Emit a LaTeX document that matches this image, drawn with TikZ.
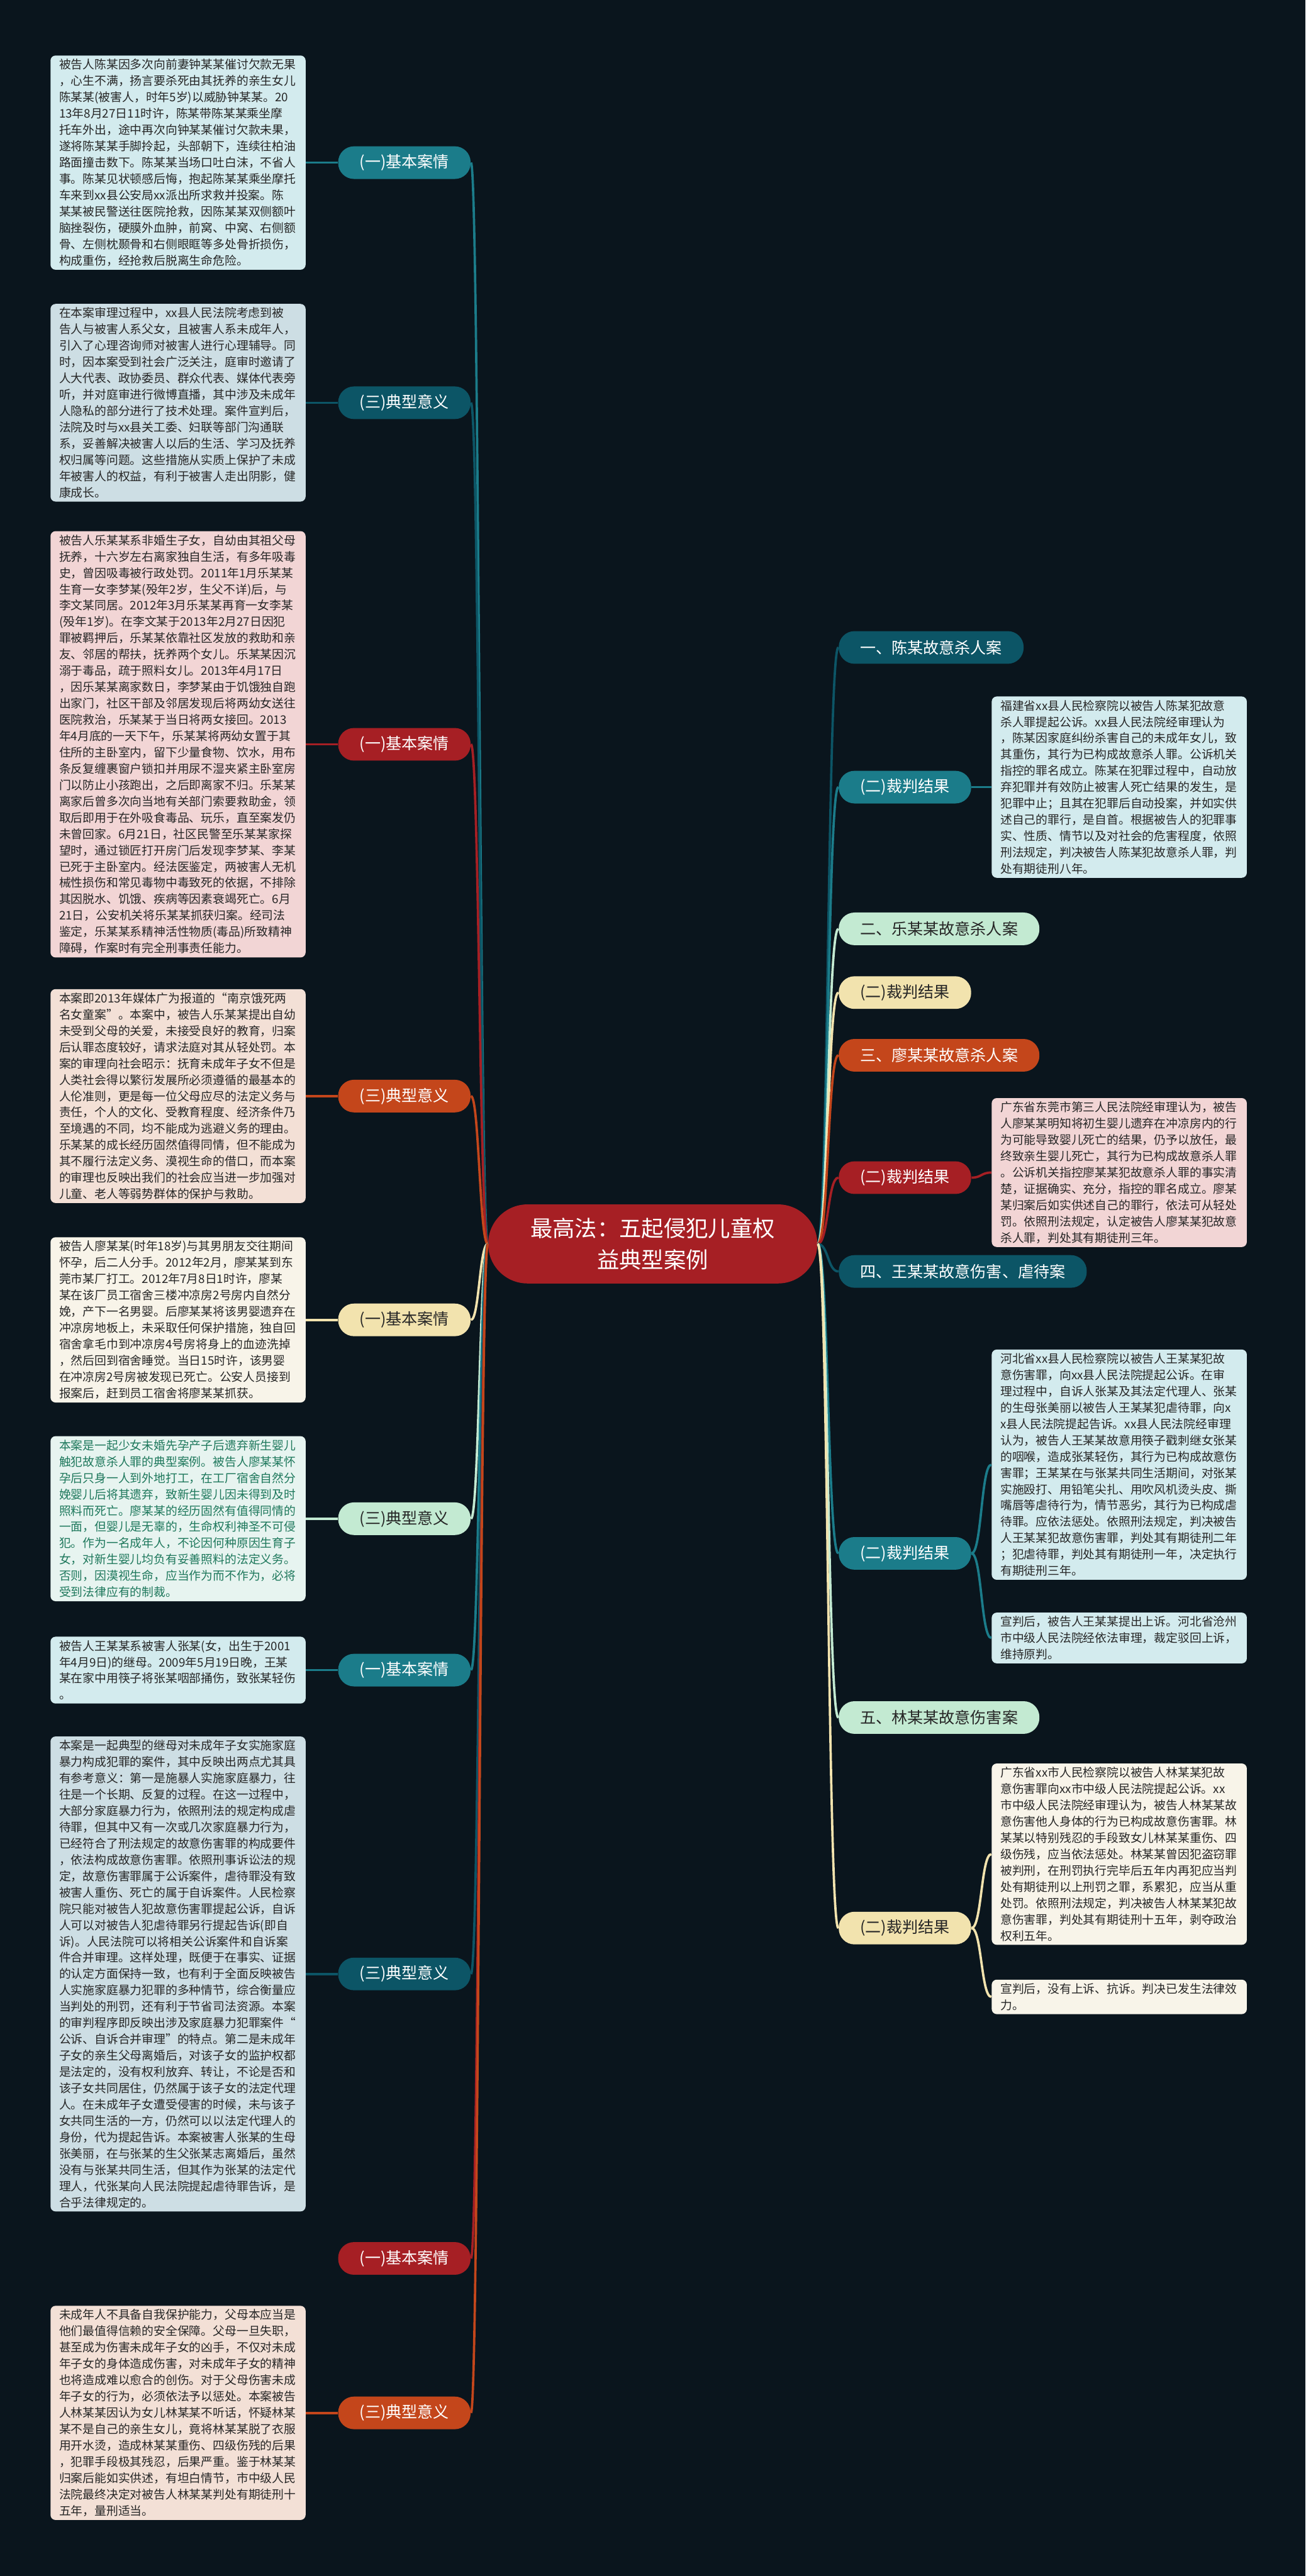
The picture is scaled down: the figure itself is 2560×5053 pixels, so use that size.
\documentclass[tikz,border=0pt]{standalone}
\usepackage{fontspec}
\setmainfont{Noto Sans CJK SC}
\definecolor{bg}{HTML}{0A151D}
\definecolor{cTeal}{HTML}{1B7C8A}
\definecolor{cDark}{HTML}{0C5566}
\definecolor{cRed}{HTML}{A61F24}
\definecolor{cOrange}{HTML}{C4461B}
\definecolor{cYellow}{HTML}{F2E3AE}
\definecolor{cGreen}{HTML}{C3EAD2}
\definecolor{fTeal}{HTML}{D3EBEE}
\definecolor{fDark}{HTML}{CDDEE4}
\definecolor{fRed}{HTML}{F2D5D5}
\definecolor{fOrange}{HTML}{F3E0D6}
\definecolor{fYellow}{HTML}{F8F4E9}
\definecolor{fGreen}{HTML}{E7F4F0}
\definecolor{txt}{HTML}{262626}
\definecolor{gtxt}{HTML}{1E785C}
\tikzset{
  centre/.style={fill=cRed,text=white,rounded corners=7.7mm,minimum width=6.45cm,minimum height=1.55cm,
    align=center,font=\fontsize{12.4}{17.4}\selectfont},
  topic/.style={rounded corners=3.1mm,minimum height=6.4mm,inner xsep=4.2mm,inner ysep=0pt,
    font=\fontsize{8.8}{10}\selectfont},
  leaf/.style={rounded corners=1mm,align=left,text width=4.66cm,inner xsep=1.7mm,inner ysep=0.7mm,
    text=txt,font=\fontsize{6.6}{9.1}\selectfont},
  link/.style={line width=1.3pt},
}
\begin{document}
\begin{tikzpicture}[x=0.01cm,y=-0.01cm]
\fill[bg] (0,0) rectangle (2560,5053);
\useasboundingbox (0,0) rectangle (2560,5053);

% centre
\node[centre] (ctr) at (1280,2440) {最高法：五起侵犯儿童权\\益典型案例};

% left topics
\node[topic,fill=cTeal,text=white] (l1) at (793,319) {(一)基本案情};
\node[topic,fill=cDark,text=white] (l2) at (793,790) {(三)典型意义};
\node[topic,fill=cRed,text=white] (l3) at (793,1460) {(一)基本案情};
\node[topic,fill=cOrange,text=white] (l4) at (793,2150) {(三)典型意义};
\node[topic,fill=cYellow,text=txt] (l5) at (793,2589) {(一)基本案情};
\node[topic,fill=cGreen,text=txt] (l6) at (793,2979) {(三)典型意义};
\node[topic,fill=cTeal,text=white] (l7) at (793,3276) {(一)基本案情};
\node[topic,fill=cDark,text=white] (l8) at (793,3872) {(三)典型意义};
\node[topic,fill=cRed,text=white] (l9) at (793,4430) {(一)基本案情};
\node[topic,fill=cOrange,text=white] (l10) at (793,4733) {(三)典型意义};

% right topics
\node[topic,fill=cDark,text=white,anchor=west] (r1) at (1644,1270) {一、陈某故意杀人案};
\node[topic,fill=cTeal,text=white,anchor=west] (r2) at (1644,1544) {(二)裁判结果};
\node[topic,fill=cGreen,text=txt,anchor=west] (r3) at (1644,1822) {二、乐某某故意杀人案};
\node[topic,fill=cYellow,text=txt,anchor=west] (r4) at (1644,1947) {(二)裁判结果};
\node[topic,fill=cOrange,text=white,anchor=west] (r5) at (1644,2070) {三、廖某某故意杀人案};
\node[topic,fill=cRed,text=white,anchor=west] (r6) at (1644,2310) {(二)裁判结果};
\node[topic,fill=cDark,text=white,anchor=west] (r7) at (1644,2494) {四、王某某故意伤害、虐待案};
\node[topic,fill=cTeal,text=white,anchor=west] (r8) at (1644,3047) {(二)裁判结果};
\node[topic,fill=cGreen,text=txt,anchor=west] (r9) at (1644,3369) {五、林某某故意伤害案};
\node[topic,fill=cYellow,text=txt,anchor=west] (r10) at (1644,3782) {(二)裁判结果};

% left leaves
\node[leaf,fill=fTeal,anchor=east] (b1) at (600,319) {被告人陈某因多次向前妻钟某某催讨欠款无果\\，心生不满，扬言要杀死由其抚养的亲生女儿\\陈某某(被害人，时年5岁)以威胁钟某某。20\\13年8月27日11时许，陈某带陈某某乘坐摩\\托车外出，途中再次向钟某某催讨欠款未果，\\遂将陈某某手脚拎起，头部朝下，连续往柏油\\路面撞击数下。陈某某当场口吐白沫，不省人\\事。陈某见状顿感后悔，抱起陈某某乘坐摩托\\车来到xx县公安局xx派出所求救并投案。陈\\某某被民警送往医院抢救，因陈某某双侧额叶\\脑挫裂伤，硬膜外血肿，前窝、中窝、右侧额\\骨、左侧枕颞骨和右侧眼眶等多处骨折损伤，\\构成重伤，经抢救后脱离生命危险。};
\node[leaf,fill=fDark,anchor=east] (b2) at (600,790) {在本案审理过程中，xx县人民法院考虑到被\\告人与被害人系父女，且被害人系未成年人，\\引入了心理咨询师对被害人进行心理辅导。同\\时，因本案受到社会广泛关注，庭审时邀请了\\人大代表、政协委员、群众代表、媒体代表旁\\听，并对庭审进行微博直播，其中涉及未成年\\人隐私的部分进行了技术处理。案件宣判后，\\法院及时与xx县关工委、妇联等部门沟通联\\系，妥善解决被害人以后的生活、学习及抚养\\权归属等问题。这些措施从实质上保护了未成\\年被害人的权益，有利于被害人走出阴影，健\\康成长。};
\node[leaf,fill=fRed,anchor=east] (b3) at (600,1460) {被告人乐某某系非婚生子女，自幼由其祖父母\\抚养，十六岁左右离家独自生活，有多年吸毒\\史，曾因吸毒被行政处罚。2011年1月乐某某\\生育一女李梦某(殁年2岁，生父不详)后，与\\李文某同居。2012年3月乐某某再育一女李某\\(殁年1岁)。在李文某于2013年2月27日因犯\\罪被羁押后，乐某某依靠社区发放的救助和亲\\友、邻居的帮扶，抚养两个女儿。乐某某因沉\\溺于毒品，疏于照料女儿。2013年4月17日\\，因乐某某离家数日，李梦某由于饥饿独自跑\\出家门，社区干部及邻居发现后将两幼女送往\\医院救治，乐某某于当日将两女接回。2013\\年4月底的一天下午，乐某某将两幼女置于其\\住所的主卧室内，留下少量食物、饮水，用布\\条反复缠裹窗户锁扣并用尿不湿夹紧主卧室房\\门以防止小孩跑出，之后即离家不归。乐某某\\离家后曾多次向当地有关部门索要救助金，领\\取后即用于在外吸食毒品、玩乐，直至案发仍\\未曾回家。6月21日，社区民警至乐某某家探\\望时，通过锁匠打开房门后发现李梦某、李某\\已死于主卧室内。经法医鉴定，两被害人无机\\械性损伤和常见毒物中毒致死的依据，不排除\\其因脱水、饥饿、疾病等因素衰竭死亡。6月\\21日，公安机关将乐某某抓获归案。经司法\\鉴定，乐某某系精神活性物质(毒品)所致精神\\障碍，作案时有完全刑事责任能力。};
\node[leaf,fill=fOrange,anchor=east] (b4) at (600,2150) {本案即2013年媒体广为报道的“南京饿死两\\名女童案”。本案中，被告人乐某某提出自幼\\未受到父母的关爱，未接受良好的教育，归案\\后认罪态度较好，请求法庭对其从轻处罚。本\\案的审理向社会昭示：抚育未成年子女不但是\\人类社会得以繁衍发展所必须遵循的最基本的\\人伦准则，更是每一位父母应尽的法定义务与\\责任，个人的文化、受教育程度、经济条件乃\\至境遇的不同，均不能成为逃避义务的理由。\\乐某某的成长经历固然值得同情，但不能成为\\其不履行法定义务、漠视生命的借口，而本案\\的审理也反映出我们的社会应当进一步加强对\\儿童、老人等弱势群体的保护与救助。};
\node[leaf,fill=fYellow,anchor=east] (b5) at (600,2589) {被告人廖某某(时年18岁)与其男朋友交往期间\\怀孕，后二人分手。2012年2月，廖某某到东\\莞市某厂打工。2012年7月8日1时许，廖某\\某在该厂员工宿舍三楼冲凉房2号房内自然分\\娩，产下一名男婴。后廖某某将该男婴遗弃在\\冲凉房地板上，未采取任何保护措施，独自回\\宿舍拿毛巾到冲凉房4号房将身上的血迹洗掉\\，然后回到宿舍睡觉。当日15时许，该男婴\\在冲凉房2号房被发现已死亡。公安人员接到\\报案后，赶到员工宿舍将廖某某抓获。};
\node[leaf,fill=fGreen,text=gtxt,anchor=east] (b6) at (600,2979) {本案是一起少女未婚先孕产子后遗弃新生婴儿\\触犯故意杀人罪的典型案例。被告人廖某某怀\\孕后只身一人到外地打工，在工厂宿舍自然分\\娩婴儿后将其遗弃，致新生婴儿因未得到及时\\照料而死亡。廖某某的经历固然有值得同情的\\一面，但婴儿是无辜的，生命权利神圣不可侵\\犯。作为一名成年人，不论因何种原因生育子\\女，对新生婴儿均负有妥善照料的法定义务。\\否则，因漠视生命，应当作为而不作为，必将\\受到法律应有的制裁。};
\node[leaf,fill=fTeal,anchor=east] (b7) at (600,3276) {被告人王某某系被害人张某(女，出生于2001\\年4月9日)的继母。2009年5月19日晚，王某\\某在家中用筷子将张某咽部捅伤，致张某轻伤\\。};
\node[leaf,fill=fDark,anchor=east] (b8) at (600,3872) {本案是一起典型的继母对未成年子女实施家庭\\暴力构成犯罪的案件，其中反映出两点尤其具\\有参考意义：第一是施暴人实施家庭暴力，往\\往是一个长期、反复的过程。在这一过程中，\\大部分家庭暴力行为，依照刑法的规定构成虐\\待罪，但其中又有一次或几次家庭暴力行为，\\已经符合了刑法规定的故意伤害罪的构成要件\\，依法构成故意伤害罪。依照刑事诉讼法的规\\定，故意伤害罪属于公诉案件，虐待罪没有致\\被害人重伤、死亡的属于自诉案件。人民检察\\院只能对被告人犯故意伤害罪提起公诉，自诉\\人可以对被告人犯虐待罪另行提起告诉(即自\\诉)。人民法院可以将相关公诉案件和自诉案\\件合并审理。这样处理，既便于在事实、证据\\的认定方面保持一致，也有利于全面反映被告\\人实施家庭暴力犯罪的多种情节，综合衡量应\\当判处的刑罚，还有利于节省司法资源。本案\\的审判程序即反映出涉及家庭暴力犯罪案件“\\公诉、自诉合并审理”的特点。第二是未成年\\子女的亲生父母离婚后，对该子女的监护权都\\是法定的，没有权利放弃、转让，不论是否和\\该子女共同居住，仍然属于该子女的法定代理\\人。在未成年子女遭受侵害的时候，未与该子\\女共同生活的一方，仍然可以以法定代理人的\\身份，代为提起告诉。本案被害人张某的生母\\张美丽，在与张某的生父张某志离婚后，虽然\\没有与张某共同生活，但其作为张某的法定代\\理人，代张某向人民法院提起虐待罪告诉，是\\合乎法律规定的。};
\node[leaf,fill=fOrange,anchor=east] (b9) at (600,4733) {未成年人不具备自我保护能力，父母本应当是\\他们最值得信赖的安全保障。父母一旦失职，\\甚至成为伤害未成年子女的凶手，不仅对未成\\年子女的身体造成伤害，对未成年子女的精神\\也将造成难以愈合的创伤。对于父母伤害未成\\年子女的行为，必须依法予以惩处。本案被告\\人林某某因认为女儿林某某不听话，怀疑林某\\某不是自己的亲生女儿，竟将林某某脱了衣服\\用开水烫，造成林某某重伤、四级伤残的后果\\，犯罪手段极其残忍，后果严重。鉴于林某某\\归案后能如实供述，有坦白情节，市中级人民\\法院最终决定对被告人林某某判处有期徒刑十\\五年，量刑适当。};

% right leaves
\node[leaf,fill=fTeal,anchor=west] (rb1) at (1944,1544) {福建省xx县人民检察院以被告人陈某犯故意\\杀人罪提起公诉。xx县人民法院经审理认为\\，陈某因家庭纠纷杀害自己的未成年女儿，致\\其重伤，其行为已构成故意杀人罪。公诉机关\\指控的罪名成立。陈某在犯罪过程中，自动放\\弃犯罪并有效防止被害人死亡结果的发生，是\\犯罪中止；且其在犯罪后自动投案，并如实供\\述自己的罪行，是自首。根据被告人的犯罪事\\实、性质、情节以及对社会的危害程度，依照\\刑法规定，判决被告人陈某犯故意杀人罪，判\\处有期徒刑八年。};
\node[leaf,fill=fRed,anchor=west] (rb2) at (1944,2300) {广东省东莞市第三人民法院经审理认为，被告\\人廖某某明知将初生婴儿遗弃在冲凉房内的行\\为可能导致婴儿死亡的结果，仍予以放任，最\\终致亲生婴儿死亡，其行为已构成故意杀人罪\\。公诉机关指控廖某某犯故意杀人罪的事实清\\楚，证据确实、充分，指控的罪名成立。廖某\\某归案后如实供述自己的罪行，依法可从轻处\\罚。依照刑法规定，认定被告人廖某某犯故意\\杀人罪，判处其有期徒刑三年。};
\node[leaf,fill=fTeal,anchor=west] (rb3) at (1944,2873) {河北省xx县人民检察院以被告人王某某犯故\\意伤害罪，向xx县人民法院提起公诉。在审\\理过程中，自诉人张某及其法定代理人、张某\\的生母张美丽以被告人王某某犯虐待罪，向x\\x县人民法院提起告诉。xx县人民法院经审理\\认为，被告人王某某故意用筷子戳刺继女张某\\的咽喉，造成张某轻伤，其行为已构成故意伤\\害罪；王某某在与张某共同生活期间，对张某\\实施殴打、用铅笔尖扎、用吹风机烫头皮、撕\\嘴唇等虐待行为，情节恶劣，其行为已构成虐\\待罪。应依法惩处。依照刑法规定，判决被告\\人王某某犯故意伤害罪，判处其有期徒刑二年\\；犯虐待罪，判处其有期徒刑一年，决定执行\\有期徒刑三年。};
\node[leaf,fill=fTeal,anchor=west] (rb4) at (1944,3213) {宣判后，被告人王某某提出上诉。河北省沧州\\市中级人民法院经依法审理，裁定驳回上诉，\\维持原判。};
\node[leaf,fill=fYellow,anchor=west] (rb5) at (1944,3637) {广东省xx市人民检察院以被告人林某某犯故\\意伤害罪向xx市中级人民法院提起公诉。xx\\市中级人民法院经审理认为，被告人林某某故\\意伤害他人身体的行为已构成故意伤害罪。林\\某某以特别残忍的手段致女儿林某某重伤、四\\级伤残，应当依法惩处。林某某曾因犯盗窃罪\\被判刑，在刑罚执行完毕后五年内再犯应当判\\处有期徒刑以上刑罚之罪，系累犯，应当从重\\处罚。依照刑法规定，判决被告人林某某犯故\\意伤害罪，判处其有期徒刑十五年，剥夺政治\\权利五年。};
\node[leaf,fill=fYellow,anchor=west] (rb6) at (1944,3917) {宣判后，没有上诉、抗诉。判决已发生法律效\\力。};

% centre to topics
\foreach \n/\c in {l1/cTeal,l2/cDark,l3/cRed,l4/cOrange,l5/cYellow,l6/cGreen,l7/cTeal,l8/cDark,l9/cRed,l10/cOrange}
  \draw[link,\c] (ctr.west) .. controls +(-16,0) and +(16,0) .. (\n.east);
\foreach \n/\c in {r1/cDark,r2/cTeal,r3/cGreen,r4/cYellow,r5/cOrange,r6/cRed,r7/cDark,r8/cTeal,r9/cGreen,r10/cYellow}
  \draw[link,\c] (ctr.east) .. controls +(21,0) and +(-21,0) .. (\n.west);

% topics to leaves
\foreach \n/\b/\c in {l1/b1/cTeal,l2/b2/cDark,l3/b3/cRed,l4/b4/cOrange,l5/b5/cYellow,l6/b6/cGreen,l7/b7/cTeal,l8/b8/cDark,l10/b9/cOrange}
  \draw[link,\c] (\n.west) -- (\b.east);
\foreach \n/\b/\c in {r2/rb1/cTeal,r6/rb2/cRed,r8/rb3/cTeal,r8/rb4/cTeal,r10/rb5/cYellow,r10/rb6/cYellow}
  \draw[link,\c] (\n.east) .. controls +(20,0) and +(-20,0) .. (\b.west);

\end{tikzpicture}
\end{document}
